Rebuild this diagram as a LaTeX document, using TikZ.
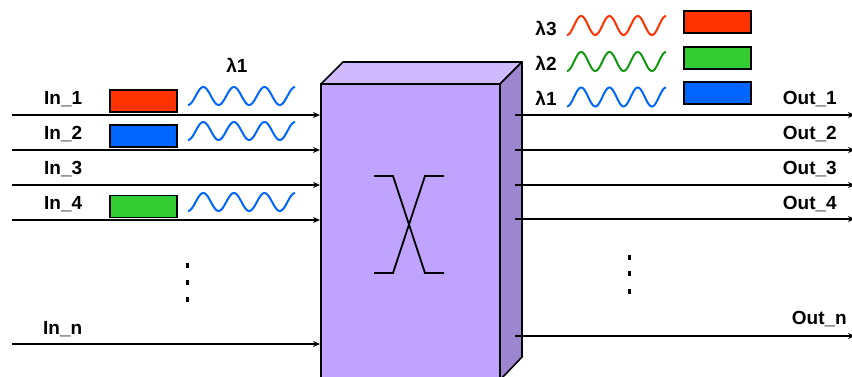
\documentclass[tikz,border=0pt]{standalone}
\usepackage{fontspec}
\setmainfont{Liberation Sans}
\usetikzlibrary{arrows.meta}
\definecolor{fred}{HTML}{FF3300}
\definecolor{fblue}{HTML}{0066FF}
\definecolor{fgreen}{HTML}{33CC33}
\definecolor{wgreen}{HTML}{119911}
\definecolor{boxfront}{HTML}{C0A2FF}
\definecolor{boxtop}{HTML}{CFB9FF}
\definecolor{boxside}{HTML}{9C86D0}
\begin{document}
\begin{tikzpicture}[x=1pt,y=-1pt,
  lbl/.style={font=\bfseries\fontsize{19}{19}\selectfont, inner sep=0pt},
  sig/.style={line width=1.7pt, -{Stealth[length=7pt,width=6pt]}},
  chip/.style={draw=black, line width=1.8pt, minimum width=67pt, minimum height=22pt, inner sep=0pt},
  wave/.style={line width=2pt},
  dotm/.style={fill=black}
]
\useasboundingbox (0,0) rectangle (852,376);
% switch box
\fill[boxtop,draw=black,line width=1.6pt,line join=round] (321,84) -- (343,62) -- (522,62) -- (500,84) -- cycle;
\fill[boxside,draw=black,line width=1.6pt,line join=round] (500,84) -- (522,62) -- (522,357) -- (500,380) -- cycle;
\fill[boxfront,draw=black,line width=1.6pt] (321,84) rectangle (500,380);
% coordinates on box
\foreach \n/\y in {1/115,2/150,3/185,4/220,n/344}{
  \coordinate (is\n) at (12,\y);
  \coordinate (ie\n) at (320,\y);
}
\foreach \n/\y in {1/115,2/150,3/185,4/219,n/336}{
  \coordinate (os\n) at (515,\y);
  \coordinate (oe\n) at (855,\y);
}
% crossbar symbol
\coordinate (xa) at (374,176); \coordinate (xb) at (393,176);
\coordinate (xc) at (425,176); \coordinate (xd) at (444,176);
\coordinate (xe) at (374,273); \coordinate (xf) at (393,273);
\coordinate (xg) at (425,273); \coordinate (xh) at (444,273);
\draw[line width=1.8pt] (xa) -- (xb) -- (xg) -- (xh);
\draw[line width=1.8pt] (xd) -- (xc) -- (xf) -- (xe);
% input lines
\foreach \n in {1,2,3,4,n}{ \draw[sig] (is\n) -- (ie\n); }
% output lines
\foreach \n in {1,2,3,4,n}{ \draw[sig] (os\n) -- (oe\n); }
% input labels
\node[lbl,anchor=west] (lin1) at (44,99.5) {In\_1};
\node[lbl,anchor=west] (lin2) at (44,134.5) {In\_2};
\node[lbl,anchor=west] (lin3) at (44,169.5) {In\_3};
\node[lbl,anchor=west] (lin4) at (44,204.5) {In\_4};
\node[lbl,anchor=west] (linn) at (43,329) {In\_n};
% output labels
\node[lbl,anchor=east] (lout1) at (837,99.5) {Out\_1};
\node[lbl,anchor=east] (lout2) at (837,134.5) {Out\_2};
\node[lbl,anchor=east] (lout3) at (837,169.5) {Out\_3};
\node[lbl,anchor=east] (lout4) at (837,204.5) {Out\_4};
\node[lbl,anchor=east] (loutn) at (847,319.5) {Out\_n};
% input chips
\node[chip,fill=fred]  (c1) at (143.5,101) {};
\node[chip,fill=fblue] (c2) at (143.5,136) {};
\node[chip,fill=fgreen](c4) at (143.5,206.5) {};
% input waves
\foreach \yc in {96,131,202}{
  \draw[wave,fblue] plot[domain=0:3.5,samples=90,smooth] ({188+\x*30.6},{\yc-9*sin(\x*360-90)});
}
\node[lbl] (l1in) at (237,65) {λ1};
% output side legend
\node[lbl] (lo3) at (546,28) {λ3};
\node[lbl] (lo2) at (546,63) {λ2};
\node[lbl] (lo1) at (546,98) {λ1};
\draw[wave,fred]   plot[domain=0:3.5,samples=90,smooth] ({567+\x*28.3},{25.5-9.5*sin(\x*360-90)});
\draw[wave,wgreen] plot[domain=0:3.5,samples=90,smooth] ({567+\x*28.3},{61.5-9.5*sin(\x*360-90)});
\draw[wave,fblue]  plot[domain=0:3.5,samples=90,smooth] ({567+\x*28.3},{97-9.5*sin(\x*360-90)});
\node[chip,fill=fred]  (r3) at (717.5,22) {};
\node[chip,fill=fgreen](r2) at (717.5,58) {};
\node[chip,fill=fblue] (r1) at (717.5,93) {};
% vertical dots
\foreach \y in {265,282,299}{ \fill[dotm] (185.5,\y-2.5) rectangle (189,\y+2.5); }
\foreach \y in {257,273,291}{ \fill[dotm] (627.5,\y-2.5) rectangle (631,\y+2.5); }
\end{tikzpicture}
\end{document}
